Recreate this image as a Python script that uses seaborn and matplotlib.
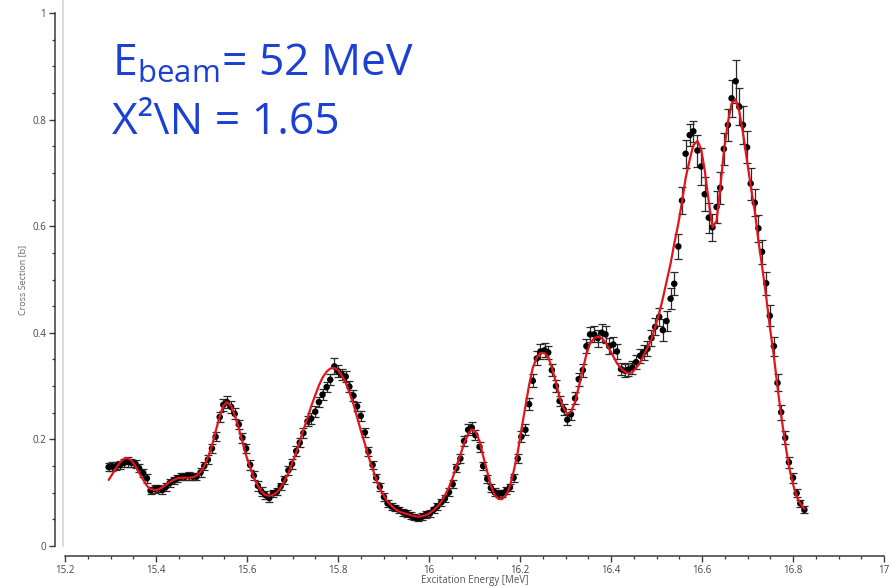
import numpy as np
import pandas as pd
import matplotlib
matplotlib.use("Agg")
import matplotlib.pyplot as plt
from matplotlib.lines import Line2D
import seaborn as sns

# Excitation energy of each measured bin [MeV]
energy = [
    15.296, 15.304, 15.313, 15.321, 15.330, 15.338, 15.346, 15.355, 15.363, 15.372,
    15.380, 15.388, 15.397, 15.405, 15.414, 15.422, 15.430, 15.439, 15.447, 15.456,
    15.464, 15.472, 15.481, 15.489, 15.498, 15.506, 15.514, 15.523, 15.531, 15.540,
    15.548, 15.556, 15.565, 15.573, 15.582, 15.590, 15.598, 15.607, 15.615, 15.624,
    15.632, 15.640, 15.649, 15.657, 15.666, 15.674, 15.682, 15.691, 15.699, 15.708,
    15.716, 15.724, 15.733, 15.741, 15.750, 15.758, 15.766, 15.775, 15.783, 15.792,
    15.800, 15.808, 15.817, 15.825, 15.834, 15.842, 15.850, 15.859, 15.867, 15.876,
    15.884, 15.892, 15.901, 15.909, 15.918, 15.926, 15.934, 15.943, 15.951, 15.960,
    15.968, 15.976, 15.985, 15.993, 16.002, 16.010, 16.018, 16.027, 16.035, 16.044,
    16.052, 16.060, 16.069, 16.077, 16.086, 16.094, 16.102, 16.111, 16.119, 16.128,
    16.136, 16.144, 16.153, 16.161, 16.170, 16.178, 16.186, 16.195, 16.203, 16.212,
    16.220, 16.228, 16.237, 16.245, 16.254, 16.262, 16.270, 16.279, 16.287, 16.296,
    16.304, 16.312, 16.321, 16.329, 16.338, 16.346, 16.354, 16.363, 16.371, 16.380,
    16.388, 16.396, 16.405, 16.413, 16.422, 16.430, 16.438, 16.447, 16.455, 16.464,
    16.472, 16.480, 16.489, 16.497, 16.506, 16.514, 16.522, 16.531, 16.539, 16.548,
    16.556, 16.564, 16.573, 16.581, 16.590, 16.598, 16.606, 16.615, 16.623, 16.632,
    16.640, 16.648, 16.657, 16.665, 16.674, 16.682, 16.690, 16.699, 16.707, 16.716,
    16.724, 16.732, 16.741, 16.749, 16.758, 16.766, 16.774, 16.783, 16.791, 16.800,
    16.808, 16.816, 16.825,
]

# Measured cross section [b]
cross_section = [
    0.148, 0.149, 0.150, 0.152, 0.156, 0.158, 0.156, 0.154, 0.146, 0.137,
    0.127, 0.104, 0.107, 0.108, 0.105, 0.111, 0.118, 0.123, 0.127, 0.130,
    0.130, 0.131, 0.130, 0.130, 0.138, 0.150, 0.162, 0.183, 0.205, 0.242,
    0.265, 0.270, 0.261, 0.248, 0.228, 0.203, 0.183, 0.152, 0.132, 0.113,
    0.102, 0.096, 0.090, 0.099, 0.102, 0.112, 0.124, 0.142, 0.154, 0.178,
    0.194, 0.212, 0.234, 0.239, 0.252, 0.270, 0.284, 0.298, 0.312, 0.337,
    0.328, 0.322, 0.318, 0.299, 0.282, 0.262, 0.244, 0.213, 0.177, 0.152,
    0.128, 0.111, 0.092, 0.080, 0.074, 0.071, 0.068, 0.063, 0.061, 0.057,
    0.054, 0.052, 0.055, 0.059, 0.061, 0.068, 0.074, 0.082, 0.089, 0.101,
    0.116, 0.146, 0.164, 0.197, 0.218, 0.222, 0.208, 0.186, 0.150, 0.126,
    0.109, 0.101, 0.098, 0.099, 0.104, 0.110, 0.128, 0.164, 0.205, 0.218,
    0.266, 0.310, 0.352, 0.365, 0.367, 0.363, 0.330, 0.300, 0.272, 0.256,
    0.237, 0.247, 0.277, 0.313, 0.330, 0.375, 0.397, 0.397, 0.390, 0.400,
    0.397, 0.375, 0.378, 0.365, 0.332, 0.329, 0.331, 0.335, 0.345, 0.357,
    0.363, 0.370, 0.390, 0.411, 0.430, 0.405, 0.422, 0.464, 0.492, 0.562,
    0.648, 0.736, 0.771, 0.778, 0.742, 0.712, 0.660, 0.616, 0.598, 0.636,
    0.672, 0.745, 0.790, 0.840, 0.872, 0.824, 0.790, 0.748, 0.680, 0.644,
    0.596, 0.552, 0.493, 0.432, 0.375, 0.306, 0.251, 0.203, 0.157, 0.128,
    0.099, 0.080, 0.068,
]

# Statistical uncertainty [b]
uncertainty = [
    0.008, 0.008, 0.007, 0.008, 0.008, 0.009, 0.008, 0.008, 0.008, 0.008,
    0.008, 0.007, 0.007, 0.007, 0.007, 0.007, 0.007, 0.007, 0.007, 0.007,
    0.007, 0.007, 0.007, 0.007, 0.008, 0.008, 0.008, 0.008, 0.008, 0.010,
    0.011, 0.012, 0.011, 0.010, 0.009, 0.009, 0.009, 0.009, 0.009, 0.009,
    0.009, 0.007, 0.007, 0.007, 0.007, 0.007, 0.007, 0.009, 0.009, 0.009,
    0.009, 0.009, 0.009, 0.010, 0.010, 0.010, 0.010, 0.010, 0.010, 0.015,
    0.011, 0.011, 0.011, 0.010, 0.010, 0.009, 0.009, 0.009, 0.008, 0.008,
    0.008, 0.007, 0.007, 0.007, 0.006, 0.006, 0.006, 0.006, 0.006, 0.006,
    0.006, 0.006, 0.006, 0.006, 0.006, 0.006, 0.006, 0.007, 0.007, 0.007,
    0.007, 0.008, 0.008, 0.009, 0.010, 0.010, 0.009, 0.009, 0.008, 0.007,
    0.007, 0.007, 0.007, 0.007, 0.007, 0.007, 0.007, 0.009, 0.010, 0.010,
    0.011, 0.012, 0.013, 0.014, 0.013, 0.013, 0.011, 0.011, 0.010, 0.010,
    0.010, 0.010, 0.011, 0.012, 0.012, 0.013, 0.014, 0.015, 0.016, 0.017,
    0.016, 0.015, 0.015, 0.014, 0.012, 0.012, 0.012, 0.012, 0.013, 0.013,
    0.014, 0.014, 0.015, 0.016, 0.017, 0.020, 0.019, 0.020, 0.022, 0.023,
    0.025, 0.026, 0.020, 0.020, 0.030, 0.035, 0.032, 0.028, 0.025, 0.030,
    0.030, 0.030, 0.030, 0.035, 0.040, 0.035, 0.035, 0.030, 0.030, 0.025,
    0.025, 0.022, 0.022, 0.020, 0.018, 0.016, 0.014, 0.012, 0.010, 0.009,
    0.008, 0.007, 0.007,
]

# Fitted cross section evaluated on the same energy bins [b]
fit_curve = [
    0.124, 0.135, 0.147, 0.157, 0.164, 0.165, 0.160, 0.150, 0.137, 0.124,
    0.113, 0.107, 0.105, 0.106, 0.110, 0.115, 0.120, 0.124, 0.127, 0.128,
    0.128, 0.128, 0.129, 0.132, 0.139, 0.150, 0.166, 0.188, 0.215, 0.243,
    0.263, 0.270, 0.263, 0.245, 0.221, 0.195, 0.170, 0.148, 0.128, 0.113,
    0.102, 0.096, 0.094, 0.096, 0.101, 0.110, 0.122, 0.137, 0.155, 0.175,
    0.196, 0.218, 0.240, 0.262, 0.283, 0.301, 0.316, 0.327, 0.333, 0.334,
    0.330, 0.320, 0.306, 0.288, 0.266, 0.242, 0.217, 0.192, 0.168, 0.145,
    0.125, 0.108, 0.094, 0.083, 0.075, 0.069, 0.065, 0.062, 0.060, 0.058,
    0.056, 0.055, 0.056, 0.058, 0.062, 0.067, 0.074, 0.083, 0.095, 0.110,
    0.128, 0.149, 0.171, 0.192, 0.210, 0.219, 0.215, 0.197, 0.169, 0.139,
    0.113, 0.096, 0.088, 0.088, 0.096, 0.113, 0.140, 0.176, 0.218, 0.262,
    0.302, 0.334, 0.354, 0.362, 0.362, 0.354, 0.335, 0.307, 0.279, 0.258,
    0.248, 0.252, 0.270, 0.298, 0.331, 0.360, 0.380, 0.390, 0.393, 0.390,
    0.382, 0.370, 0.356, 0.343, 0.333, 0.327, 0.324, 0.326, 0.334, 0.344,
    0.358, 0.372, 0.388, 0.410, 0.437, 0.465, 0.496, 0.530, 0.567, 0.605,
    0.645, 0.690, 0.725, 0.752, 0.760, 0.745, 0.705, 0.645, 0.598, 0.610,
    0.670, 0.740, 0.795, 0.830, 0.838, 0.815, 0.775, 0.722, 0.676, 0.628,
    0.572, 0.525, 0.468, 0.412, 0.356, 0.298, 0.245, 0.192, 0.150, 0.116,
    0.093, 0.080, 0.070,
]

x_ticks = [15.2, 15.4, 15.6, 15.8, 16.0, 16.2, 16.4, 16.6, 16.8, 17.0]
x_tick_labels = ["15.2", "15.4", "15.6", "15.8", "16", "16.2", "16.4", "16.6", "16.8", "17"]
y_ticks = [0.0, 0.2, 0.4, 0.6, 0.8, 1.0]
y_tick_labels = ["0", "0.2", "0.4", "0.6", "0.8", "1"]

data = pd.DataFrame({"E": energy, "xs": cross_section, "err": uncertainty, "fit": fit_curve})

sns.set_theme(style="ticks")
plt.rcParams["font.family"] = ["Open Sans", "DejaVu Sans"]
plt.rcParams["mathtext.fontset"] = "custom"
plt.rcParams["mathtext.rm"] = "Open Sans"

fig = plt.figure(figsize=(8.93, 5.87), dpi=100)
ax = fig.add_axes([65 / 893, 41 / 587, 819 / 893, 533 / 587])

# error bars and data points
ax.errorbar(data["E"], data["xs"], yerr=data["err"], fmt="none",
            ecolor="#2a2a2a", elinewidth=0.9, capsize=2.8, capthick=0.9, zorder=2)
sns.scatterplot(data=data, x="E", y="xs", ax=ax, color="black", s=22,
                edgecolor="none", linewidth=0, zorder=3)
# fit curve
sns.lineplot(data=data, x="E", y="fit", ax=ax, color="#e3141c", linewidth=1.6,
             zorder=4, sort=True)

ax.set_xlim(15.2, 17.0)
ax.set_ylim(0.0, 1.0)
ax.set_xticks(x_ticks)
ax.set_xticklabels(x_tick_labels)
ax.set_yticks(y_ticks)
ax.set_yticklabels(y_tick_labels)
ax.set_xticks(np.arange(15.2, 17.0, 0.05), minor=True)
ax.set_yticks(np.arange(0.0, 1.0, 0.05), minor=True)

for side in ("top", "right"):
    ax.spines[side].set_visible(False)
for side in ("left", "bottom"):
    ax.spines[side].set_position(("outward", 7))
    ax.spines[side].set_color("#3a3a3a")
    ax.spines[side].set_linewidth(1.1)

ax.tick_params(axis="both", which="major", direction="out", length=4.5, width=1.0,
               color="#3a3a3a", labelsize=7, labelcolor="#444444", pad=2)
ax.tick_params(axis="both", which="minor", direction="out", length=2.5, width=0.9,
               color="#3a3a3a")

ax.set_xlabel("")
ax.set_ylabel("Cross Section [b]", fontsize=6.5, color="#666666", labelpad=4)
fig.text(475 / 893, 1 / 587, "Excitation Energy [MeV]", fontsize=7, color="#555555",
         ha="center", va="bottom")

# plot-frame edge
fig.add_artist(Line2D([62.5 / 893, 62.5 / 893], [41 / 587, 1.0], color="#dcdcdc",
                      linewidth=1.5, transform=fig.transFigure, zorder=0))

blue = "#1c3fd4"
ax.text(112 / 893, 1 - 76 / 587, r"E$_\mathregular{beam}$= 52 MeV", transform=fig.transFigure,
        fontsize=32, color=blue, ha="left", va="baseline")
ax.text(112 / 893, 1 - 134 / 587, "X\u00b2\\N = 1.65", transform=fig.transFigure,
        fontsize=32, color=blue, ha="left", va="baseline")

fig.savefig("out.png", dpi=100)
